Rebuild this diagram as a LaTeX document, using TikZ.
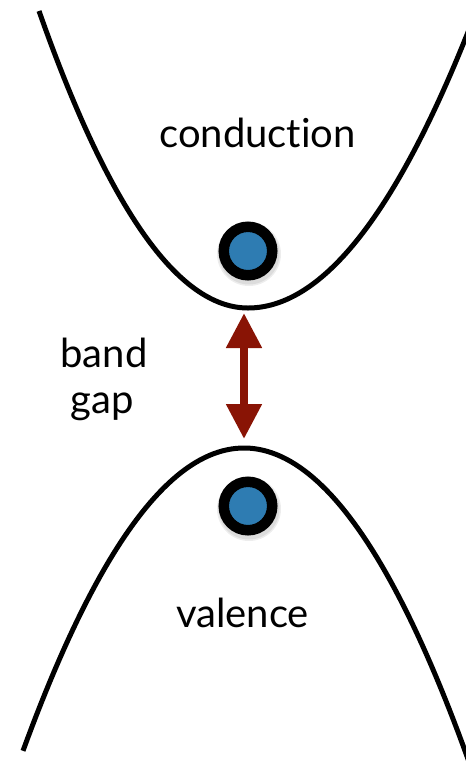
\documentclass[tikz,border=0pt]{standalone}
\usepackage{fontspec}
\setmainfont{Lato}[Ligatures={NoCommon}]
\usetikzlibrary{arrows.meta}
\definecolor{ballblue}{RGB}{46,124,178}
\definecolor{gapred}{RGB}{137,20,5}
\begin{document}
\begin{tikzpicture}[x=1pt,y=-1pt,
  bandline/.style={line width=5pt, black},
  lbl/.style={anchor=base, inner sep=0pt, font=\fontsize{40}{46}\selectfont},
  ball/.style={circle, draw=black, line width=10.5pt, fill=ballblue, minimum size=48.5pt, inner sep=0pt},
  shade/.style={fill=black, opacity=0.07},
  gaparrow/.style={draw=gapred, line width=8pt, {Triangle[width=34pt,length=35pt]}-{Triangle[width=34pt,length=35pt]}}
]
\useasboundingbox (0,0) rectangle (466,764);
% conduction band
\draw[bandline] plot[domain=-2.09:0, samples=60] ({248+100*\x},{308-68*\x*\x})
  -- plot[domain=0:2.26, samples=60] ({248+100*\x},{308-57*\x*\x});
% valence band
\draw[bandline] plot[domain=-2.21:2.28, samples=100] ({244+100*\x},{448+62*\x*\x});
\coordinate (cmin) at (244,308);
\coordinate (vmax) at (244,448);
% shadows
\fill[shade] (249,254) circle (32pt);
\fill[shade] (249,254) circle (30.5pt);
\fill[shade] (249,509) circle (32pt);
\fill[shade] (249,509) circle (30.5pt);
% particles
\node[ball] (electron) at (248,251) {};
\node[ball] (hole) at (248,506) {};
% gap arrow
\draw[gaparrow, shorten <=5pt, shorten >=9pt] (cmin) -- (vmax);
% labels
\node[lbl] (cond) at (257.5,147) {conduction};
\node[lbl] (val) at (242.5,627) {valence};
\node[lbl] (band) at (104,367) {band};
\node[lbl] (gap) at (102,413) {gap};
\end{tikzpicture}
\end{document}
